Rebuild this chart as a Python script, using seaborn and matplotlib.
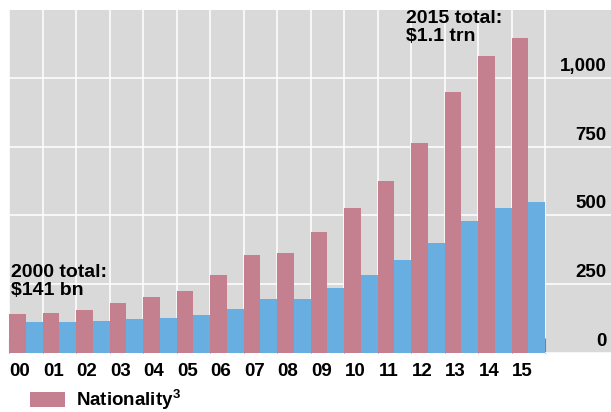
import numpy as np
import pandas as pd
import matplotlib
matplotlib.use("Agg")
import matplotlib.pyplot as plt
import seaborn as sns
from matplotlib.patches import Patch
from matplotlib.ticker import FixedLocator
from matplotlib.transforms import ScaledTranslation

# ---- data ----
years = ["00", "01", "02", "03", "04", "05", "06", "07",
         "08", "09", "10", "11", "12", "13", "14", "15"]
nationality = [142, 147, 157, 180, 205, 227, 282, 355,
               364, 441, 528, 626, 764, 949, 1078, 1146]
residence = [111, 114, 115, 123, 127, 138, 161, 196,
             196, 237, 285, 339, 401, 481, 528, 550]
series_names = ["Nationality", "Residence"]
y_ticks = [0, 250, 500, 750, 1000]
y_tick_labels = ["0", "250", "500", "750", "1,000"]
legend_label = r"$\mathregular{Nationality^3}$"
note_2000 = "2000 total:\n$141 bn"
note_2015 = "2015 total:\n$1.1 trn"

PINK = "#C4808E"
BLUE = "#69AEE1"
BG = "#D9D9D9"

df = pd.DataFrame({
    "year": years * 2,
    "series": [series_names[0]] * len(years) + [series_names[1]] * len(years),
    "value": nationality + residence,
})

sns.set_style({"axes.facecolor": BG, "figure.facecolor": "white"})
plt.rcParams["font.family"] = ["Liberation Sans", "DejaVu Sans"]
plt.rcParams["font.weight"] = "bold"
plt.rcParams["mathtext.fontset"] = "custom"
plt.rcParams["mathtext.rm"] = "Liberation Sans:bold"
plt.rcParams["mathtext.it"] = "Liberation Sans:bold:italic"
plt.rcParams["mathtext.bf"] = "Liberation Sans:bold"

FS = 13.5
fig = plt.figure(figsize=(6.11, 4.12), dpi=100)
ax = fig.add_axes([9 / 611, 59 / 412, 602 / 611, 343 / 412])

sns.barplot(data=df, x="year", y="value", hue="series", order=years,
            hue_order=series_names, palette=[PINK, BLUE], saturation=1,
            width=1.0, gap=0, linewidth=0, legend=False, ax=ax)

ax.set_axisbelow(True)
ax.set_xlim(-0.5, 17.47)
ax.set_ylim(0, 1247)
ax.set_xlabel("")
ax.set_ylabel("")
for s in ax.spines.values():
    s.set_visible(False)

# grid
ax.xaxis.set_minor_locator(FixedLocator(np.arange(-0.5, 16, 1)))
ax.grid(False)
ax.grid(which="minor", axis="x", color="white", lw=1.1)
ax.grid(which="major", axis="y", color="white", lw=1.1)

# x ticks
ax.set_xticks(range(len(years)), years)
ax.tick_params(axis="x", which="major", length=0, pad=7.5, labelsize=FS,
               labelcolor="black")
ax.tick_params(axis="x", which="minor", direction="in", length=10.8,
               width=0.8, color="#808080")
off = ScaledTranslation(-6 / 100, 0, fig.dpi_scale_trans)
for lbl in ax.get_xticklabels():
    lbl.set_transform(lbl.get_transform() + off)
    lbl.set_fontweight("bold")

# y ticks on the right, inside
ax.yaxis.tick_right()
ax.set_yticks(y_ticks, y_tick_labels)
ax.tick_params(axis="y", which="both", length=0, pad=-3, labelsize=FS,
               labelcolor="black")
yoff = ScaledTranslation(0, 3 / 100, fig.dpi_scale_trans)
for lbl in ax.get_yticklabels():
    lbl.set_ha("right")
    lbl.set_va("bottom")
    lbl.set_fontweight("bold")
    lbl.set_transform(lbl.get_transform() + yoff)

# annotations
ax.text(-0.45, 324, note_2000, ha="left", va="top", fontsize=14,
        fontweight="bold", linespacing=1.12, color="black")
ax.text(11.35, 1248, note_2015, ha="left", va="top", fontsize=14,
        fontweight="bold", linespacing=1.12, color="black")

# legend
fig.legend(handles=[Patch(facecolor=PINK, edgecolor="none", label=legend_label)],
           loc="upper left", bbox_to_anchor=(30 / 611, 1 - 388 / 412),
           frameon=False, fontsize=FS, handlelength=1.87, handleheight=0.8,
           handletextpad=0.6, borderpad=0, borderaxespad=0)

fig.savefig("out.png", dpi=100)
